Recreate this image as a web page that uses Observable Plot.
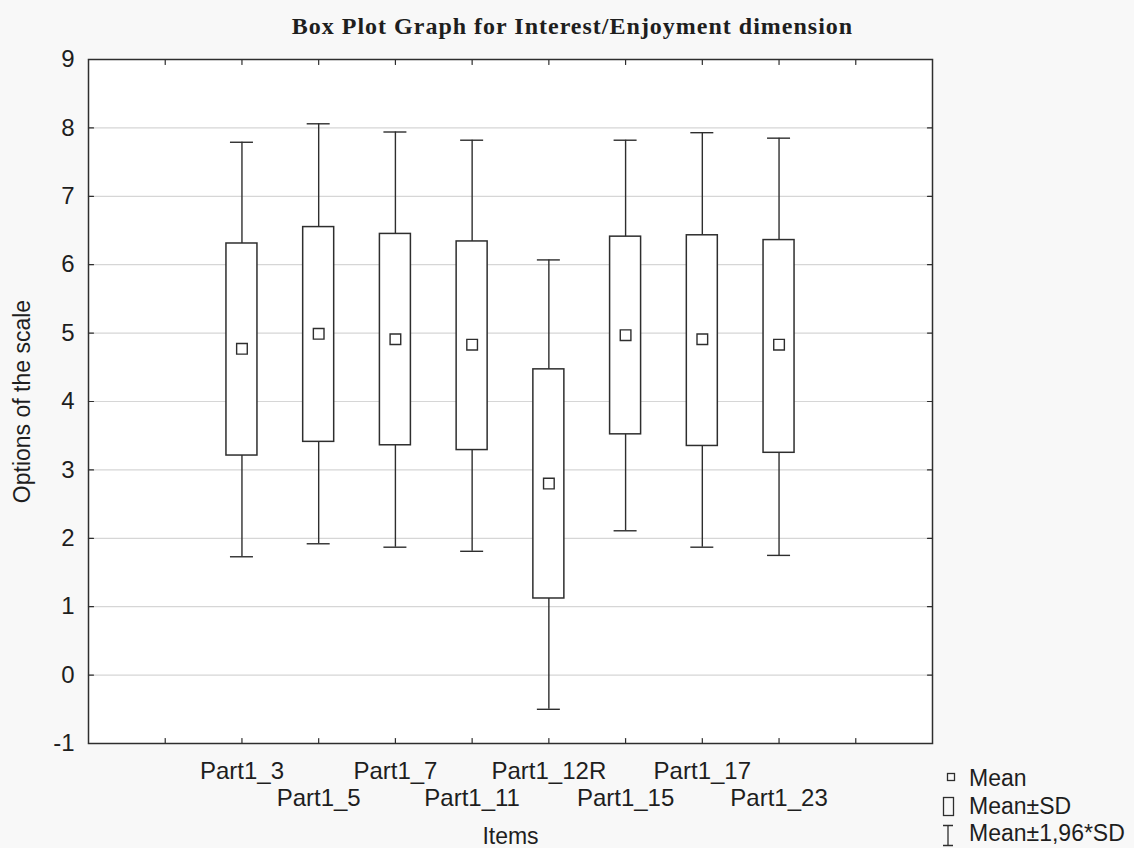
<!DOCTYPE html>
<html>
<head>
<meta charset="utf-8">
<script src="https://cdn.jsdelivr.net/npm/d3@7"></script>
<script src="https://cdn.jsdelivr.net/npm/@observablehq/plot@0.6"></script>
<style>
  html, body { margin: 0; padding: 0; background: #f8f8f8; }
  #wrap { position: relative; width: 1134px; height: 848px; overflow: hidden; font-family: "Liberation Sans", Arial, sans-serif; color: #222; }
  #title { position: absolute; left: 0; width: 1145px; top: 12px; line-height: 28px; text-align: center; font-family: "Liberation Serif", "Times New Roman", serif; font-weight: bold; font-size: 24px; letter-spacing: 1px; color: #1e1e1e; }
  #chart { position: absolute; left: 0; top: 0; }
  #legend { position: absolute; left: 0; top: 0; }
</style>
</head>
<body>
<div id="wrap">
  <div id="chart"></div>
  <div id="title">Box Plot Graph for Interest/Enjoyment dimension</div>
  <svg id="legend" width="1134" height="848"></svg>
</div>
<script>
// ---- data ----
const categories = ["Part1_3", "Part1_5", "Part1_7", "Part1_11", "Part1_12R", "Part1_15", "Part1_17", "Part1_23"];
const means      = [4.77, 4.99, 4.91, 4.83, 2.80, 4.97, 4.91, 4.83];
const sdLow      = [3.21, 3.41, 3.36, 3.29, 1.12, 3.52, 3.35, 3.25];
const sdHigh     = [6.31, 6.55, 6.45, 6.34, 4.47, 6.41, 6.43, 6.36];
const ciLow      = [1.73, 1.92, 1.87, 1.81, -0.50, 2.11, 1.87, 1.75];
const ciHigh     = [7.79, 8.06, 7.94, 7.82, 6.07, 7.82, 7.93, 7.85];
const yTicks     = [-1, 0, 1, 2, 3, 4, 5, 6, 7, 8, 9];
const xSlots     = [1, 2, 3, 4, 5, 6, 7, 8, 9, 10];   // category slots on the frame (2..9 are used)
const xTitle = "Items";
const yTitle = "Options of the scale";
const legendItems = ["Mean", "Mean\u00b1SD", "Mean\u00b11,96*SD"];

const rows = categories.map((name, i) => ({
  name, pos: i + 2, mean: means[i], sdLow: sdLow[i], sdHigh: sdHigh[i], ciLow: ciLow[i], ciHigh: ciHigh[i]
}));
const labelOf = new Map(rows.map(r => [r.pos, r.name]));
const upperRow = rows.filter((r, i) => i % 2 === 0).map(r => r.pos);
const lowerRow = rows.filter((r, i) => i % 2 === 1).map(r => r.pos);

const ink = "#2e2e2e";
const tickShape = {draw(context, l) { context.moveTo(0, 0); context.lineTo(0, -l); }};

const chart = Plot.plot({
  width: 1134,
  height: 848,
  marginLeft: 88,
  marginRight: 202,
  marginTop: 59,
  marginBottom: 105,
  style: {background: "none", fontFamily: "Liberation Sans, Arial, sans-serif", color: "#1e1e1e"},
  x: {type: "linear", domain: [0, 11]},
  y: {type: "linear", domain: [-1, 9]},
  marks: [
    Plot.frame({fill: "white", stroke: "none"}),
    Plot.gridY(yTicks, {stroke: "#d6d6d6", strokeOpacity: 1, strokeWidth: 1.2}),
    // whiskers
    Plot.ruleX(rows, {x: "pos", y1: "ciLow", y2: "ciHigh", stroke: ink, strokeWidth: 1.4}),
    Plot.ruleY(rows, {y: "ciHigh", x1: "pos", x2: "pos", insetLeft: -11.5, insetRight: -11.5, stroke: ink, strokeWidth: 1.4}),
    Plot.ruleY(rows, {y: "ciLow", x1: "pos", x2: "pos", insetLeft: -11.5, insetRight: -11.5, stroke: ink, strokeWidth: 1.4}),
    // mean ± SD boxes
    Plot.rect(rows, {x1: "pos", x2: "pos", y1: "sdLow", y2: "sdHigh", insetLeft: -15.5, insetRight: -15.5, fill: "white", stroke: ink, strokeWidth: 1.5}),
    // means
    Plot.dot(rows, {x: "pos", y: "mean", symbol: "square", r: 6, fill: "white", stroke: ink, strokeWidth: 1.4}),
    // inward frame ticks
    Plot.vector(xSlots, {x: d => d, frameAnchor: "bottom", length: 5, rotate: 0, anchor: "start", shape: tickShape, stroke: ink, strokeWidth: 1.2}),
    Plot.vector(xSlots, {x: d => d, frameAnchor: "top", length: 5, rotate: 180, anchor: "start", shape: tickShape, stroke: ink, strokeWidth: 1.2}),
    Plot.vector(yTicks, {y: d => d, frameAnchor: "left", length: 5, rotate: 90, anchor: "start", shape: tickShape, stroke: ink, strokeWidth: 1.2}),
    Plot.vector(yTicks, {y: d => d, frameAnchor: "right", length: 5, rotate: -90, anchor: "start", shape: tickShape, stroke: ink, strokeWidth: 1.2}),
    Plot.frame({stroke: ink, strokeWidth: 1.5}),
    // axes
    Plot.axisY(yTicks, {anchor: "left", tickSize: 0, tickPadding: 14, fontSize: 24, tickFormat: d => String(d), label: null}),
    Plot.axisY(yTicks, {anchor: "left", tickSize: 0, tickFormat: () => "", fontSize: 23, label: yTitle, labelAnchor: "center", labelOffset: 75, labelArrow: "none"}),
    Plot.axisX(upperRow, {anchor: "bottom", tickSize: 0, tickPadding: 18, fontSize: 24, tickFormat: d => labelOf.get(d), label: null}),
    Plot.axisX(lowerRow, {anchor: "bottom", tickSize: 0, tickPadding: 45, fontSize: 24, tickFormat: d => labelOf.get(d), label: null}),
    Plot.axisX(lowerRow, {anchor: "bottom", tickSize: 0, tickFormat: () => "", fontSize: 23, label: xTitle, labelAnchor: "center", labelOffset: 100, labelArrow: "none"})
  ]
});
document.getElementById("chart").appendChild(chart);

// ---- legend ----
const lg = d3.select("#legend");
const g = lg.append("g").attr("fill", "none").attr("stroke", ink).attr("stroke-width", 1.3);
g.append("rect").attr("x", 947.5).attr("y", 773.5).attr("width", 7).attr("height", 7);
g.append("rect").attr("x", 943.5).attr("y", 797.5).attr("width", 10).attr("height", 18);
g.append("path").attr("d", "M943,825.5H953M948,825.5V845M943,845.5H953");
lg.selectAll("text.lg").data(legendItems).join("text")
  .attr("x", 969).attr("y", (d, i) => 786 + i * 27.5)
  .attr("font-family", "Liberation Sans, Arial, sans-serif").attr("font-size", 23).attr("fill", "#1e1e1e")
  .text(d => d);
</script>
</body>
</html>
